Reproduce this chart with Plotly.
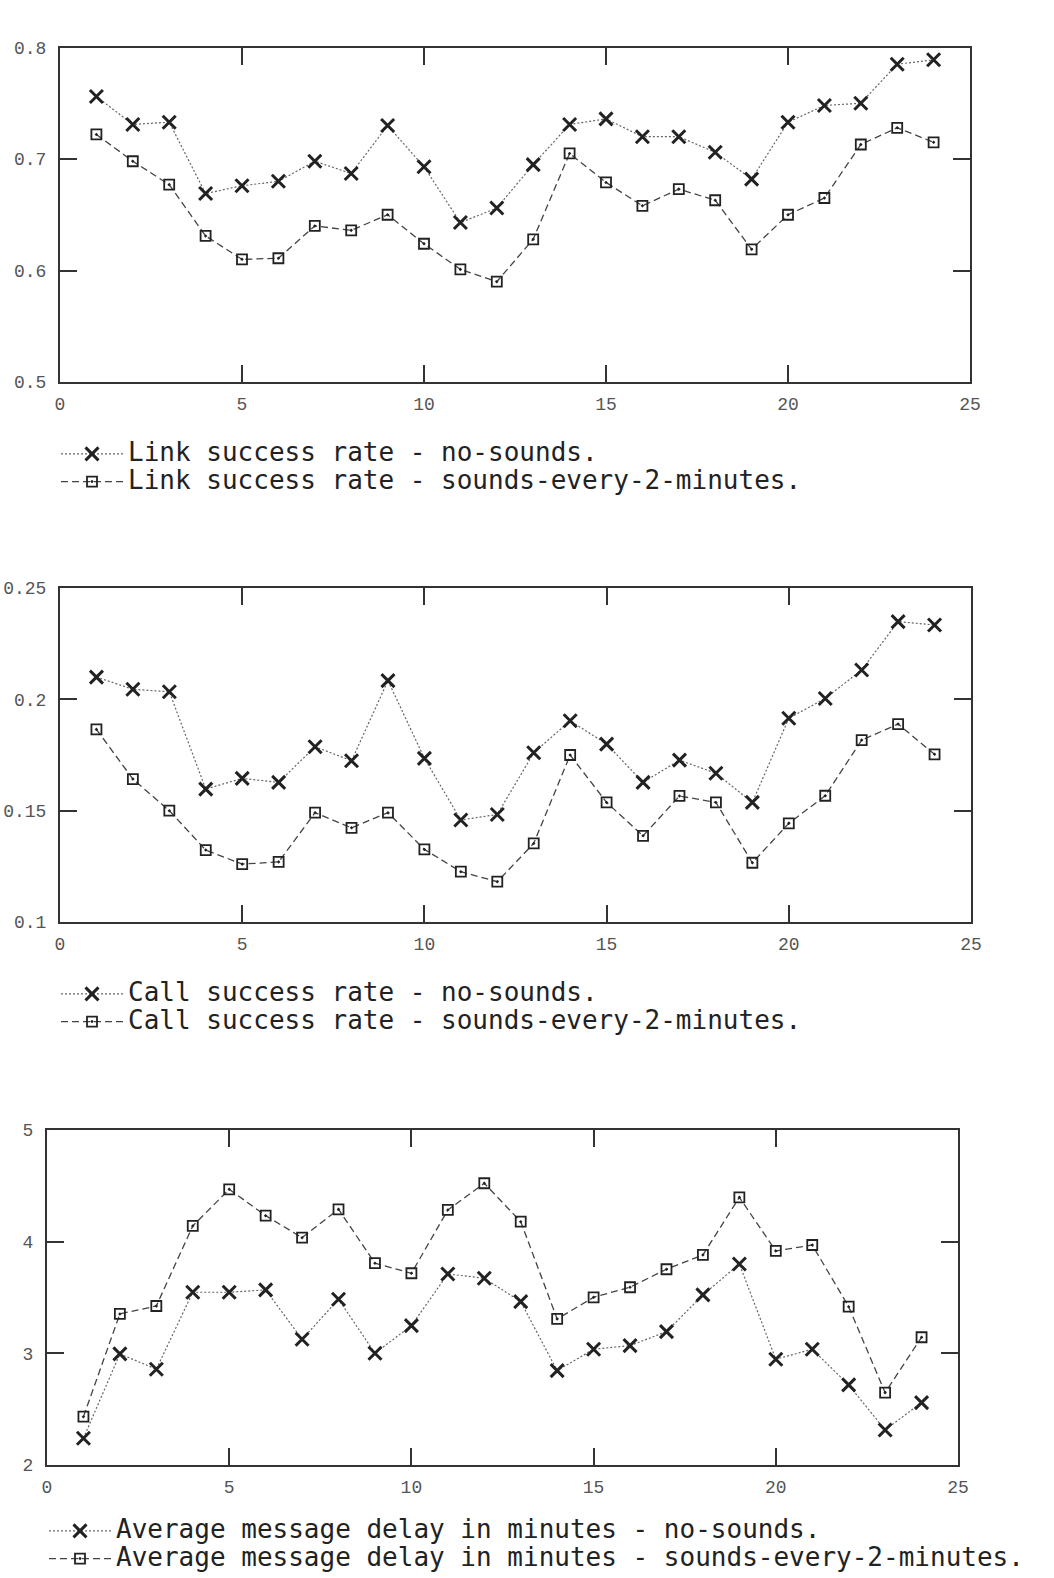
import plotly.graph_objects as go

# ---------------- data ----------------
hours = [1, 2, 3, 4, 5, 6, 7, 8, 9, 10, 11, 12,
         13, 14, 15, 16, 17, 18, 19, 20, 21, 22, 23, 24]

link_no_sounds = [0.756, 0.731, 0.733, 0.669, 0.676, 0.680, 0.698, 0.687, 0.730, 0.693, 0.643, 0.656,
                  0.695, 0.731, 0.736, 0.720, 0.720, 0.706, 0.682, 0.733, 0.748, 0.750, 0.785, 0.789]
link_sounds = [0.722, 0.698, 0.677, 0.631, 0.610, 0.611, 0.640, 0.636, 0.650, 0.624, 0.601, 0.590,
               0.628, 0.705, 0.679, 0.658, 0.673, 0.663, 0.619, 0.650, 0.665, 0.713, 0.728, 0.715]

call_no_sounds = [0.2100, 0.2045, 0.2034, 0.1597, 0.1645, 0.1627, 0.1787, 0.1724, 0.2084, 0.1735, 0.1458, 0.1483,
                  0.1760, 0.1904, 0.1799, 0.1627, 0.1727, 0.1668, 0.1537, 0.1915, 0.2004, 0.2132, 0.2349, 0.2334]
call_sounds = [0.1865, 0.1642, 0.1500, 0.1323, 0.1260, 0.1270, 0.1491, 0.1423, 0.1491, 0.1326, 0.1226, 0.1181,
               0.1353, 0.1750, 0.1537, 0.1387, 0.1566, 0.1537, 0.1266, 0.1443, 0.1567, 0.1817, 0.1889, 0.1753]

delay_no_sounds = [2.240, 2.995, 2.858, 3.547, 3.547, 3.568, 3.126, 3.484, 3.001, 3.248, 3.711, 3.672,
                   3.463, 2.845, 3.037, 3.069, 3.194, 3.523, 3.800, 2.947, 3.037, 2.717, 2.314, 2.559]
delay_sounds = [2.433, 3.353, 3.424, 4.141, 4.469, 4.233, 4.036, 4.290, 3.807, 3.717, 4.284, 4.523,
                4.179, 3.308, 3.502, 3.592, 3.753, 3.881, 4.397, 3.917, 3.970, 3.418, 2.648, 3.144]

x_tick_vals = [0, 5, 10, 15, 20, 25]
x_tick_text = ["0", "5", "10", "15", "20", "25"]
link_tick_vals = [0.5, 0.6, 0.7, 0.8]
link_tick_text = ["0.5", "0.6", "0.7", "0.8"]
call_tick_vals = [0.1, 0.15, 0.2, 0.25]
call_tick_text = ["0.1", "0.15", "0.2", "0.25"]
delay_tick_vals = [2, 3, 4, 5]
delay_tick_text = ["2", "3", "4", "5"]

link_labels = ["Link success rate - no-sounds.",
               "Link success rate - sounds-every-2-minutes."]
call_labels = ["Call success rate - no-sounds.",
               "Call success rate - sounds-every-2-minutes."]
delay_labels = ["Average message delay in minutes - no-sounds.",
                "Average message delay in minutes - sounds-every-2-minutes."]

# ---------------- layout geometry (pixels) ----------------
W, H = 1054, 1578
panels = [
    # (left, right, top, bottom, legend_x, legend_y, legend_yanchor)
    (60, 970, 47.5, 382, 56, 435, "top"),
    (60, 971, 588, 922, 56, 975, "top"),
    (47, 958, 1130, 1465, 44, 1578, "bottom"),
]
AX = "#333333"
TICKFONT = dict(family="Liberation Mono", size=18, color="#555555")

fig = go.Figure()

datasets = [
    (link_no_sounds, link_sounds, link_labels),
    (call_no_sounds, call_sounds, call_labels),
    (delay_no_sounds, delay_sounds, delay_labels),
]
legend_names = ["legend", "legend2", "legend3"]

for i, (ys1, ys2, labels) in enumerate(datasets):
    xa = "x" if i == 0 else f"x{i+1}"
    ya = "y" if i == 0 else f"y{i+1}"
    fig.add_trace(go.Scatter(
        x=hours, y=ys1, xaxis=xa, yaxis=ya, mode="lines+markers",
        name=f'<span style="font-size:26px">{labels[0]}</span>',
        legend=legend_names[i],
        line=dict(color="#666666", width=1.2, dash="2px,2px"),
        marker=dict(symbol="x-thin", size=13, color="#222222",
                    line=dict(color="#222222", width=3)),
    ))
    fig.add_trace(go.Scatter(
        x=hours, y=ys2, xaxis=xa, yaxis=ya, mode="lines+markers",
        name=f'<span style="font-size:26px">{labels[1]}</span>',
        legend=legend_names[i],
        line=dict(color="#444444", width=1.3, dash="7px,4px"),
        marker=dict(symbol="square-open-dot", size=10, color="#222222",
                    line=dict(color="#222222", width=1.8)),
    ))

y_ticks = [(link_tick_vals, link_tick_text), (call_tick_vals, call_tick_text),
           (delay_tick_vals, delay_tick_text)]

layout = dict(
    width=W, height=H, margin=dict(l=0, r=0, t=0, b=0),
    template="none", paper_bgcolor="white", plot_bgcolor="white",
    font=dict(family="DejaVu Sans Mono", color="#222222"),
)

for i, (l, r, t, b, lx, ly, lya) in enumerate(panels):
    xkey = "xaxis" if i == 0 else f"xaxis{i+1}"
    ykey = "yaxis" if i == 0 else f"yaxis{i+1}"
    xa = "x" if i == 0 else f"x{i+1}"
    ya = "y" if i == 0 else f"y{i+1}"
    tv, tt = y_ticks[i]
    common = dict(showline=True, linecolor=AX, linewidth=2, mirror="allticks",
                  ticks="inside", ticklen=17, tickwidth=2, tickcolor=AX,
                  showgrid=False, zeroline=False, automargin=False,
                  tickfont=TICKFONT)
    layout[xkey] = dict(domain=[l / W, r / W], range=[0, 25], anchor=ya,
                        tickvals=x_tick_vals, ticktext=x_tick_text,
                        ticklabelstandoff=4, **common)
    layout[ykey] = dict(domain=[1 - b / H, 1 - t / H], range=[tv[0], tv[-1]], anchor=xa,
                        tickvals=tv, ticktext=tt, ticklabelstandoff=8, **common)
    layout[legend_names[i]] = dict(
        x=lx / W, y=1 - ly / H, xanchor="left", yanchor=lya,
        bgcolor="rgba(0,0,0,0)", borderwidth=0, itemwidth=62,
        font=dict(family="DejaVu Sans Mono", size=19, color="#222222"),
    )

fig.update_layout(**layout)

post = (
    "var gd=document.getElementById('{plot_id}');"
    "document.documentElement.style.margin='0';document.documentElement.style.padding='0';"
    "document.documentElement.style.overflow='hidden';"
    "document.body.style.margin='0';document.body.style.padding='0';"
    "document.body.style.overflow='hidden';"
    "gd.style.position='fixed';gd.style.left='0px';gd.style.top='0px';"
)
fig.write_html("out.html", config={"displayModeBar": False}, post_script=post)
